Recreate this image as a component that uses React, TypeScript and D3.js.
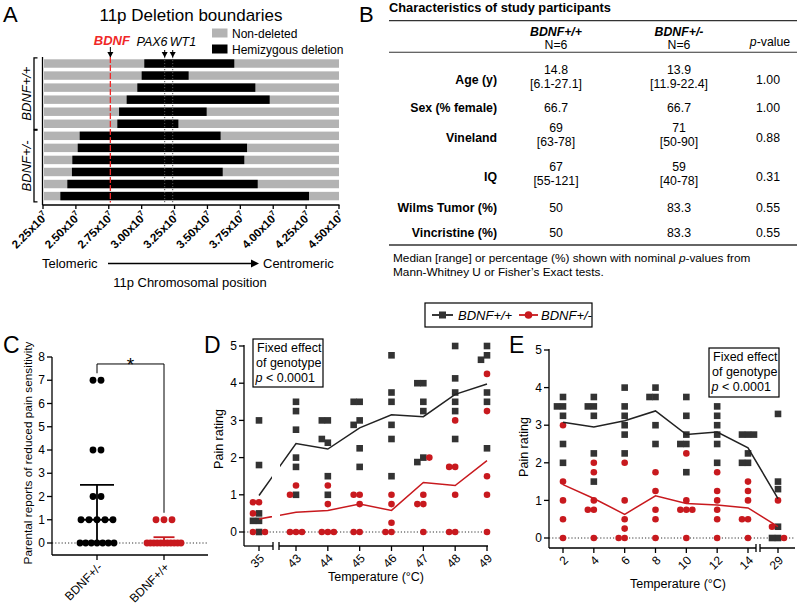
import React from 'react';
import * as d3 from 'd3';

const FONT = '"Liberation Sans", Arial, Helvetica, sans-serif';
const RED = '#c8191e';
const BRIGHT_RED = '#f02828';
const SQ = '#333333';

// ---------- Panel A data ----------
const rowGroups = ['BDNF+/+', 'BDNF+/-'];
const rowGenotype = ['BDNF+/+', 'BDNF+/+', 'BDNF+/+', 'BDNF+/+', 'BDNF+/+', 'BDNF+/+', 'BDNF+/-', 'BDNF+/-', 'BDNF+/-', 'BDNF+/-', 'BDNF+/-', 'BDNF+/-'];
const deletionStartMb = [30.2, 30.0, 29.67, 28.86, 28.28, 28.15, 25.29, 25.14, 24.73, 24.7, 24.35, 23.82];
const deletionEndMb = [37.04, 33.57, 38.64, 39.73, 34.94, 32.79, 36.0, 38.01, 37.8, 36.16, 38.82, 42.72];
const genes = ['BDNF', 'PAX6', 'WT1'];
const genePosMb = [27.62, 31.75, 32.36];
const positionTicksMb = [22.5, 25, 27.5, 30, 32.5, 35, 37.5, 40, 42.5, 45];

// ---------- Panel B data ----------
const tableTitle = 'Characteristics of study participants';
const tableRows = ['Age (y)', 'Sex (% female)', 'Vineland', 'IQ', 'Wilms Tumor (%)', 'Vincristine (%)'];
const wtMedian = ['14.8', '66.7', '69', '67', '50', '50'];
const wtRange = ['[6.1-27.1]', '', '[63-78]', '[55-121]', '', ''];
const hetMedian = ['13.9', '66.7', '71', '59', '83.3', '83.3'];
const hetRange = ['[11.9-22.4]', '', '[50-90]', '[40-78]', '', ''];
const pValues = ['1.00', '1.00', '0.88', '0.31', '0.55', '0.55'];

// ---------- Panel C data ----------
const cGroups = ['BDNF+/-', 'BDNF+/+'];
const cHetValues = [7, 7, 4, 4, 2, 2, 1, 1, 1, 1, 1, 0, 0, 0, 0, 0, 0, 0];
const cWtValues = [1, 1, 1, 0, 0, 0, 0, 0, 0, 0, 0, 0, 0, 0];
const cTicks = [0, 1, 2, 3, 4, 5, 6, 7, 8];
const sigBracket = { top: 7.7, left: 7.3, right: 1.3 };

// ---------- Panel D data ----------
const dTemps = ['35', '43', '44', '45', '46', '47', '48', '49'];
const dWtPoints = [
  [3.0, 1.8, 0.5, 0.3, 0.3, 0],
  [3.5, 3.25, 2.75, 2.0, 1.75, 1.0],
  [3.0, 3.0, 2.4, 2.5, 1.5, 1.0],
  [3.5, 3.5, 3.0, 2.88, 2.25, 1.75],
  [4.75, 3.75, 3.5, 2.88, 2.5, 1.5],
  [4.0, 4.0, 3.5, 3.25, 2.0, 1.88],
  [5.0, 4.13, 3.75, 3.5, 3.25, 2.5],
  [5.0, 4.75, 4.63, 3.75, 3.5, 2.25],
];
const dHetPoints = [
  [0.8, 0.8, 0.5, 0, 0],
  [1.25, 1.0, 0, 0, 0],
  [1.25, 0.75, 0, 0, 0],
  [1.0, 1.0, 0.75, 0, 0],
  [1.0, 0.75, 0.25, 0, 0],
  [2.0, 1.0, 0.75, 0.75, 0],
  [3.0, 1.75, 1.75, 1.0, 0, 0],
  [4.25, 3.25, 1.5, 1.0, 0],
];
const dWtMean = [0.98, 2.38, 2.23, 2.8, 3.15, 3.1, 3.7, 3.98];
const dHetMean = [0.35, 0.53, 0.58, 0.75, 0.58, 1.33, 1.25, 1.92];

// ---------- Panel E data ----------
const eTemps = ['2', '4', '6', '8', '10', '12', '14', '29'];
const eWtPoints = [
  [3.75, 3.5, 3.5, 3.25, 2.5, 2.0],
  [3.75, 3.5, 3.5, 3.25, 2.25, 1.5],
  [4.0, 3.5, 3.25, 3.0, 2.75, 2.25],
  [4.0, 3.75, 3.75, 3.0, 2.5],
  [3.75, 3.25, 2.75, 2.5, 2.5, 1.75],
  [3.5, 3.25, 3.0, 2.75, 2.5, 2.0],
  [2.75, 2.75, 2.75, 2.25, 2.0, 2.0],
  [3.3, 1.5, 1.3, 0.3, 0, 0],
];
const eHetPoints = [
  [3.0, 1.5, 1.0, 0.5, 0],
  [2.0, 1.75, 1.0, 0.75, 0.75, 0],
  [2.0, 1.0, 0.5, 0.25, 0, 0],
  [1.75, 1.25, 0.75, 0.5, 0],
  [2.25, 1.0, 0.75, 0.75, 0.75, 0],
  [1.75, 1.25, 1.0, 0.75, 0.5, 0],
  [1.5, 1.25, 1.0, 0.5, 0.5, 0],
  [1.0, 0.3, 0],
];
const eWtMean = [3.08, 2.95, 3.12, 3.38, 2.75, 2.82, 2.4, 1.05];
const eHetMean = [1.42, 1.05, 0.63, 1.12, 0.92, 0.88, 0.8, 0.3];
const painTicks = [0, 1, 2, 3, 4, 5];

// ---------- helpers ----------
function jitter(series: number[][], y: (v: number) => number, step = 6, thr = 5.5, dyThr = 6.2) {
  const placed: { dx: number; py: number }[] = [];
  return series.map((vals) =>
    vals.map((v) => {
      const py = y(v);
      for (let k = 0; k < 30; k++) {
        const m = k === 0 ? 0 : k % 2 === 1 ? -Math.ceil(k / 2) : Math.ceil(k / 2);
        const dx = m * step;
        if (!placed.some((p) => Math.abs(p.dx - dx) < thr && Math.abs(p.py - py) < dyThr)) {
          placed.push({ dx, py });
          return dx;
        }
      }
      return 0;
    })
  );
}

function gpQuantile(values: number[], p: number) {
  const s = [...values].sort((a, b) => a - b);
  const pos = p * (s.length + 1);
  const lo = Math.max(1, Math.min(s.length, Math.floor(pos)));
  const hi = Math.max(1, Math.min(s.length, Math.ceil(pos)));
  const f = pos - Math.floor(pos);
  return s[lo - 1] + (s[hi - 1] - s[lo - 1]) * f;
}

function swarmOffsets(values: number[]) {
  const counts = d3.rollup(values, (v) => v.length, (d) => d);
  const seen = new Map<number, number>();
  return values.map((v) => {
    const n = counts.get(v) || 1;
    const i = seen.get(v) || 0;
    seen.set(v, i + 1);
    const sp = n > 1 ? Math.min(8, 34 / (n - 1)) : 0;
    return (i - (n - 1) / 2) * sp;
  });
}

const Square = ({ x, y, s = 6.6 }: { x: number; y: number; s?: number }) => (
  <rect x={x - s / 2} y={y - s / 2} width={s} height={s} fill={SQ} />
);

function PanelA() {
  const xA = d3.scaleLinear().domain([22.5, 45]).range([43, 339]);
  const yA = d3.scaleBand<number>().domain(d3.range(12)).range([57.5, 202.1]).paddingInner(0.3).paddingOuter(0.15);
  const top = 57;
  const bottom = 202.5;
  const axisY = 205;
  const groupRows = rowGroups.map((g) => rowGenotype.map((r, i) => (r === g ? i : -1)).filter((i) => i >= 0));
  return (
    <g>
      <text x={3} y={22} fontSize={22}>A</text>
      <text x={191} y={21} fontSize={17} textAnchor="middle">11p Deletion boundaries</text>
      {/* legend */}
      <rect x={212} y={28.5} width={15.5} height={9} fill="#b3b3b3" />
      <text x={232} y={37.5} fontSize={12}>Non-deleted</text>
      <rect x={212} y={44.5} width={15.5} height={9} fill="#000" />
      <text x={232} y={53.5} fontSize={12}>Hemizygous deletion</text>
      {/* bars */}
      {deletionStartMb.map((s, i) => (
        <g key={i}>
          <rect x={xA(22.5) + 1} y={yA(i)} width={xA(45) - xA(22.5) - 1} height={yA.bandwidth()} fill="#b3b3b3" />
          <rect x={xA(s)} y={yA(i)} width={xA(deletionEndMb[i]) - xA(s)} height={yA.bandwidth()} fill="#000" />
        </g>
      ))}
      {/* gene lines */}
      {genes.map((g, i) => {
        const x = xA(genePosMb[i]);
        const isB = g === 'BDNF';
        return (
          <g key={g}>
            <line x1={x} x2={x} y1={top} y2={bottom} stroke={isB ? BRIGHT_RED : '#555'} strokeWidth={isB ? 1.3 : 1}
              strokeDasharray={isB ? '6,2' : '1.2,1.8'} />
            <line x1={x} x2={x} y1={isB ? 47 : 50} y2={57} stroke="#000" strokeWidth={1} />
            <path d={`M${x - 3},${top - 5} L${x + 3},${top - 5} L${x},${top + 0.5} Z`} fill="#000" />
          </g>
        );
      })}
      <text x={xA(genePosMb[0]) + 1.5} y={45} fontSize={13} fontWeight="bold" fontStyle="italic" fill={BRIGHT_RED} textAnchor="middle">BDNF</text>
      <text x={152} y={45.5} fontSize={12.5} fontStyle="italic" textAnchor="middle">PAX6</text>
      <text x={183} y={45.5} fontSize={12.5} fontStyle="italic" textAnchor="middle">WT1</text>
      {/* y axis */}
      <line x1={42.5} x2={42.5} y1={top} y2={axisY} stroke="#000" strokeWidth={1.3} />
      {/* brackets */}
      {groupRows.map((rows, gi) => {
        const y1 = (yA(rows[0]) as number) - 1.5;
        const y2 = (yA(rows[rows.length - 1]) as number) + yA.bandwidth() + 1.5;
        return (
          <g key={gi}>
            <path d={`M37.5,${y1} H34 V${y2} H37.5`} fill="none" stroke="#000" strokeWidth={1.3} />
            <text transform={`translate(30.5,${(y1 + y2) / 2}) rotate(-90)`} fontSize={13} fontStyle="italic" textAnchor="middle">{rowGroups[gi]}</text>
          </g>
        );
      })}
      {/* x axis */}
      <line x1={42.5} x2={339.5} y1={axisY} y2={axisY} stroke="#000" strokeWidth={1.3} />
      {positionTicksMb.map((t) => (
        <g key={t}>
          <line x1={xA(t)} x2={xA(t)} y1={axisY} y2={axisY + 4} stroke="#000" strokeWidth={1.3} />
          <text transform={`translate(${xA(t) + 3},${axisY + 9}) rotate(-45)`} textAnchor="end" dy="0.35em" fontSize={11.5} fontWeight="bold">
            {(t / 10).toFixed(2)}x10<tspan fontSize={7.5} dy="-5">7</tspan>
          </text>
        </g>
      ))}
      <text x={42} y={268} fontSize={13}>Telomeric</text>
      <line x1={108} x2={253} y1={263.5} y2={263.5} stroke="#000" strokeWidth={1.5} />
      <path d="M251,259.5 L259,263.5 L251,267.5 Z" fill="#000" />
      <text x={263} y={268} fontSize={13}>Centromeric</text>
      <text x={190} y={287} fontSize={13} textAnchor="middle">11p Chromosomal position</text>
    </g>
  );
}

function PanelB() {
  const labelX = 497;
  const col1 = 556;
  const col2 = 679;
  const col3 = 768;
  const rowY = [84, 112, 142, 181, 212, 237];
  return (
    <g fontSize={12.3}>
      <text x={359} y={22} fontSize={22}>B</text>
      <text x={389} y={12} fontSize={12.8} fontWeight="bold">{tableTitle}</text>
      <line x1={389} x2={797} y1={20.7} y2={20.7} stroke="#333" strokeWidth={1.3} />
      <text x={col1} y={36} textAnchor="middle" fontWeight="bold" fontStyle="italic">BDNF+/+</text>
      <text x={col1} y={48.5} textAnchor="middle">N=6</text>
      <text x={col2} y={36} textAnchor="middle" fontWeight="bold" fontStyle="italic">BDNF+/-</text>
      <text x={col2} y={48.5} textAnchor="middle">N=6</text>
      <text x={770} y={46} textAnchor="middle"><tspan fontStyle="italic">p</tspan>-value</text>
      <line x1={389} x2={797} y1={52.3} y2={52.3} stroke="#333" strokeWidth={1.1} />
      {tableRows.map((r, i) => {
        const y = rowY[i];
        const two = wtRange[i] !== '';
        return (
          <g key={r}>
            <text x={labelX} y={y} textAnchor="end" fontWeight="bold">{r}</text>
            <text x={col1} y={two ? y - 10 : y} textAnchor="middle">{wtMedian[i]}</text>
            {two && <text x={col1} y={y + 3.5} textAnchor="middle">{wtRange[i]}</text>}
            <text x={col2} y={two ? y - 10 : y} textAnchor="middle">{hetMedian[i]}</text>
            {two && <text x={col2} y={y + 3.5} textAnchor="middle">{hetRange[i]}</text>}
            <text x={col3} y={y} textAnchor="middle">{pValues[i]}</text>
          </g>
        );
      })}
      <line x1={389} x2={797} y1={245} y2={245} stroke="#333" strokeWidth={1.3} />
      <text x={393} y={262} fontSize={11.8}>Median [range] or percentage (%) shown with nominal <tspan fontStyle="italic">p</tspan>-values from</text>
      <text x={393} y={276} fontSize={11.8}>Mann-Whitney U or Fisher’s Exact tests.</text>
    </g>
  );
}

function PanelC() {
  const yC = d3.scaleLinear().domain([0, 8]).range([543, 357]);
  const xC = d3.scalePoint().domain(cGroups).range([97, 164]);
  const axisX = 52;
  const axisY = 555;
  const groups = [
    { name: cGroups[0], vals: cHetValues, color: '#000', cap: 34, med: 38 },
    { name: cGroups[1], vals: cWtValues, color: RED, cap: 21, med: 40 },
  ];
  return (
    <g>
      <text x={3} y={353} fontSize={23}>C</text>
      <text transform={`translate(32,453) rotate(-90)`} fontSize={11.8} textAnchor="middle">Parental reports of reduced pain sensitivity</text>
      <line x1={axisX} x2={208} y1={yC(0)} y2={yC(0)} stroke="#333" strokeWidth={1} strokeDasharray="1.2,2" />
      {groups.map((g) => {
        const cx = xC(g.name) as number;
        const offs = swarmOffsets(g.vals);
        const med = gpQuantile(g.vals, 0.5);
        const q1 = gpQuantile(g.vals, 0.25);
        const q3 = gpQuantile(g.vals, 0.75);
        return (
          <g key={g.name}>
            {g.vals.map((v, i) => (
              <circle key={i} cx={cx + offs[i]} cy={yC(v)} r={3.4} fill={g.color} />
            ))}
            <line x1={cx} x2={cx} y1={yC(q1)} y2={yC(q3)} stroke={g.color} strokeWidth={1.8} />
            <line x1={cx - g.cap / 2} x2={cx + g.cap / 2} y1={yC(q3)} y2={yC(q3)} stroke={g.color} strokeWidth={1.8} />
            <line x1={cx - g.med / 2} x2={cx + g.med / 2} y1={yC(med)} y2={yC(med)} stroke={g.color} strokeWidth={1.8} />
          </g>
        );
      })}
      {/* significance */}
      <path d={`M${xC(cGroups[0])},${yC(sigBracket.left)} V${yC(sigBracket.top)} H${xC(cGroups[1])} V${yC(sigBracket.right)}`}
        fill="none" stroke="#000" strokeWidth={1} />
      <text x={((xC(cGroups[0]) as number) + (xC(cGroups[1]) as number)) / 2} y={371} fontSize={19} textAnchor="middle">*</text>
      {/* axes */}
      <line x1={axisX} x2={axisX} y1={yC(8)} y2={axisY} stroke="#000" strokeWidth={1.3} />
      <line x1={axisX} x2={208} y1={axisY} y2={axisY} stroke="#000" strokeWidth={1.3} />
      {cTicks.map((t) => (
        <g key={t}>
          <line x1={axisX - 5} x2={axisX} y1={yC(t)} y2={yC(t)} stroke="#000" strokeWidth={1.3} />
          <text x={axisX - 7} y={yC(t)} dy="0.35em" fontSize={12} textAnchor="end">{t}</text>
        </g>
      ))}
      {cGroups.map((g) => (
        <g key={g}>
          <line x1={xC(g)} x2={xC(g)} y1={axisY} y2={axisY + 5} stroke="#000" strokeWidth={1.3} />
          <text transform={`translate(${(xC(g) as number) + 3},${axisY + 10}) rotate(-45)`} dy="0.35em" fontSize={12} textAnchor="end">{g}</text>
        </g>
      ))}
    </g>
  );
}

function PainPanel(props: {
  letter: string; letterX: number;
  temps: string[]; wt: number[][]; het: number[][]; wtMean: number[]; hetMean: number[];
  mainRange: [number, number]; extraPos: number; extraFirst: boolean;
  yRange: [number, number]; axisX: number; axisY: number; axisEnd: number;
  breakAt: [number, number]; lineGap: boolean;
  boxX: number; boxY: number; boxW: number; boxH: number;
  xTitleX: number; xTitleY: number; yTitleX: number; yTitleY: number; clipId: string;
}) {
  const p = props;
  const y = d3.scaleLinear().domain([0, 5]).range(p.yRange);
  const extraCat = p.extraFirst ? p.temps[0] : p.temps[p.temps.length - 1];
  const mainCats = p.temps.filter((t) => t !== extraCat);
  const xMain = d3.scalePoint().domain(mainCats).range(p.mainRange);
  const xExtra = d3.scalePoint().domain([extraCat]).range([p.extraPos, p.extraPos]);
  const x = (c: string) => (c === extraCat ? (xExtra(c) as number) : (xMain(c) as number));
  const offs = p.temps.map((_, i) => jitter([p.wt[i], p.het[i]], y));
  const line = d3.line<number>().x((_, i) => x(p.temps[i])).y((d) => y(d));
  const lineEls = (
    <g>
      <path d={line(p.wtMean) || ''} fill="none" stroke="#222" strokeWidth={1.5} />
      <path d={line(p.hetMean) || ''} fill="none" stroke={RED} strokeWidth={1.5} />
    </g>
  );
  return (
    <g>
      <text x={p.letterX} y={353} fontSize={23}>{p.letter}</text>
      <line x1={p.axisX} x2={p.axisEnd} y1={y(0)} y2={y(0)} stroke="#333" strokeWidth={1} strokeDasharray="1.2,2" />
      {p.temps.map((t, i) => (
        <g key={t}>
          {p.wt[i].map((v, j) => <Square key={'w' + j} x={x(t) + offs[i][0][j]} y={y(v)} />)}
          {p.het[i].map((v, j) => <circle key={'h' + j} cx={x(t) + offs[i][1][j]} cy={y(v)} r={3.3} fill={RED} />)}
        </g>
      ))}
      {p.lineGap ? (
        <g>
          <defs>
            <clipPath id={p.clipId + 'a'}><rect x={0} y={0} width={p.breakAt[0] - 1} height={607} /></clipPath>
            <clipPath id={p.clipId + 'b'}><rect x={p.breakAt[1] + 1} y={0} width={800} height={607} /></clipPath>
          </defs>
          <g clipPath={`url(#${p.clipId}a)`}>{lineEls}</g>
          <g clipPath={`url(#${p.clipId}b)`}>{lineEls}</g>
        </g>
      ) : lineEls}
      {/* y axis */}
      <line x1={p.axisX} x2={p.axisX} y1={y(5) - 1} y2={p.axisY} stroke="#000" strokeWidth={1.3} />
      {painTicks.map((t) => (
        <g key={t}>
          <line x1={p.axisX - 5} x2={p.axisX} y1={y(t)} y2={y(t)} stroke="#000" strokeWidth={1.3} />
          <text x={p.axisX - 7} y={y(t)} dy="0.35em" fontSize={12} textAnchor="end">{t}</text>
        </g>
      ))}
      {/* x axis with break */}
      <line x1={p.axisX} x2={p.breakAt[0]} y1={p.axisY} y2={p.axisY} stroke="#000" strokeWidth={1.3} />
      <line x1={p.breakAt[1]} x2={p.axisEnd} y1={p.axisY} y2={p.axisY} stroke="#000" strokeWidth={1.3} />
      {p.breakAt.map((b, i) => (
        <line key={i} x1={b} x2={b} y1={p.axisY - 4} y2={p.axisY + 4} stroke="#000" strokeWidth={1.3} />
      ))}
      {p.temps.map((t) => (
        <g key={t}>
          <line x1={x(t)} x2={x(t)} y1={p.axisY} y2={p.axisY + 5} stroke="#000" strokeWidth={1.3} />
          <text transform={`translate(${x(t) + 3},${p.axisY + 10}) rotate(-45)`} dy="0.35em" fontSize={12} textAnchor="end">{t}</text>
        </g>
      ))}
      <text x={p.xTitleX} y={p.xTitleY} fontSize={12.5} textAnchor="middle">Temperature (°C)</text>
      <text transform={`translate(${p.yTitleX},${p.yTitleY}) rotate(-90)`} fontSize={12.5} textAnchor="middle">Pain rating</text>
      {/* stats box */}
      <rect x={p.boxX} y={p.boxY} width={p.boxW} height={p.boxH} fill="#fff" stroke="#000" strokeWidth={1.2} />
      <g fontSize={12.5}>
        <text x={p.boxX + 4} y={p.boxY + 13}>Fixed effect</text>
        <text x={p.boxX + 3} y={p.boxY + 28}>of genotype</text>
        <text x={p.boxX + 2.5} y={p.boxY + 42.5}><tspan fontStyle="italic">p</tspan> &lt; 0.0001</text>
      </g>
    </g>
  );
}

function Legend() {
  return (
    <g>
      <rect x={425} y={303} width={167} height={24} fill="#fff" stroke="#000" strokeWidth={1.2} />
      <line x1={432} x2={453} y1={315} y2={315} stroke="#222" strokeWidth={1.8} />
      <Square x={442.5} y={315} s={7} />
      <text x={458} y={319.5} fontSize={13} fontStyle="italic">BDNF+/+</text>
      <line x1={519} x2={538} y1={315} y2={315} stroke={RED} strokeWidth={1.8} />
      <circle cx={528.5} cy={315} r={3.8} fill={RED} />
      <text x={541} y={319.5} fontSize={13} fontStyle="italic">BDNF+/-</text>
    </g>
  );
}

export default function App() {
  return (
    <svg width={800} height={607} viewBox="0 0 800 607"
      style={{ position: 'absolute', left: 0, top: 0, background: '#fff' }} fontFamily={FONT}>
      <rect x={0} y={0} width={800} height={607} fill="#fff" />
      <PanelA />
      <PanelB />
      <PanelC />
      <Legend />
      <PainPanel letter="D" letterX={204} temps={dTemps} wt={dWtPoints} het={dHetPoints} wtMean={dWtMean} hetMean={dHetMean}
        mainRange={[296, 487]} extraPos={259} extraFirst={true} yRange={[532, 346]} axisX={244} axisY={546} axisEnd={488}
        breakAt={[273, 279]} lineGap={true} boxX={253} boxY={339} boxW={70} boxH={48}
        xTitleX={376} xTitleY={581} yTitleX={223} yTitleY={439} clipId="clipD" />
      <PainPanel letter="E" letterX={509} temps={eTemps} wt={eWtPoints} het={eHetPoints} wtMean={eWtMean} hetMean={eHetMean}
        mainRange={[563, 748]} extraPos={778} extraFirst={false} yRange={[538, 350]} axisX={549} axisY={548} axisEnd={795}
        breakAt={[756, 760]} lineGap={false} boxX={709} boxY={348} boxW={70} boxH={49}
        xTitleX={678} xTitleY={588} yTitleX={528} yTitleY={447} clipId="clipE" />
    </svg>
  );
}
